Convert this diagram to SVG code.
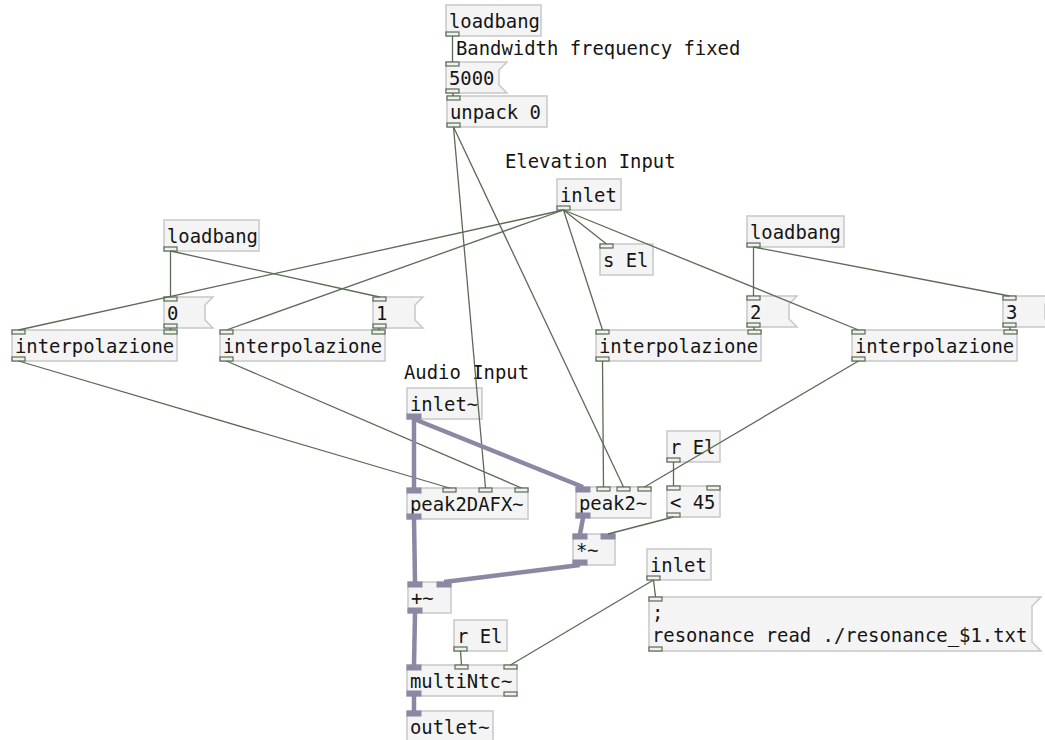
<svg xmlns="http://www.w3.org/2000/svg" width="1045" height="740" viewBox="0 0 1045 740">
<style>
.box{fill:#f4f4f4;stroke:#c8c8c8;stroke-width:1.5}
.t{font-family:"DejaVu Sans Mono",monospace;font-size:18.9px;fill:#151515}
.io{fill:#eef1ec;stroke:#5b6b56;stroke-width:1.2}
.sio{fill:#8b88a4;stroke:#8b88a4;stroke-width:1}
.c{stroke:#5b6b56;stroke-width:1.3;fill:none}
.s{stroke:#8b88a4;stroke-width:4.5;fill:none}
</style>
<rect width="1045" height="740" fill="#ffffff"/>

<!-- objects -->
<g id="loadbang-top"><rect class="box" x="446" y="5" width="95" height="31"/><text class="t" x="449" y="28">loadbang</text><rect class="io" x="446" y="32" width="13" height="4"/></g>
<g id="comment-bandwidth"><text class="t" x="456" y="55">Bandwidth frequency fixed</text></g>
<g id="msg-5000"><path class="box" d="M446 62H507L499 70V85L507 93H446Z"/><text class="t" x="449" y="85">5000</text><rect class="io" x="446" y="62" width="13" height="4"/><rect class="io" x="446" y="89" width="13" height="4"/></g>
<g id="unpack"><rect class="box" x="447" y="96" width="100" height="31"/><text class="t" x="450" y="119">unpack 0</text><rect class="io" x="447" y="96" width="13" height="4"/><rect class="io" x="447" y="123" width="13" height="4"/></g>

<g id="comment-elevation"><text class="t" x="505" y="168">Elevation Input</text></g>
<g id="inlet-elevation"><rect class="box" x="557" y="179" width="64" height="31"/><text class="t" x="560" y="202">inlet</text><rect class="io" x="557" y="206" width="13" height="4"/></g>
<g id="send-el"><rect class="box" x="600" y="244" width="53" height="31"/><text class="t" x="603" y="267">s El</text><rect class="io" x="600" y="244" width="13" height="4"/></g>

<g id="loadbang-left"><rect class="box" x="164" y="220" width="95" height="31"/><text class="t" x="167" y="243">loadbang</text><rect class="io" x="164" y="247" width="13" height="4"/></g>
<g id="loadbang-right"><rect class="box" x="747" y="216" width="97" height="31"/><text class="t" x="750" y="239">loadbang</text><rect class="io" x="747" y="243" width="13" height="4"/></g>

<g id="msg-0"><path class="box" d="M164 297H213L205 305V320L213 328H164Z"/><text class="t" x="167" y="320">0</text><rect class="io" x="164" y="297" width="13" height="4"/><rect class="io" x="164" y="324" width="13" height="4"/></g>
<g id="msg-1"><path class="box" d="M373 297H423L415 305V320L423 328H373Z"/><text class="t" x="376" y="320">1</text><rect class="io" x="373" y="297" width="13" height="4"/><rect class="io" x="373" y="324" width="13" height="4"/></g>
<g id="msg-2"><path class="box" d="M747 296H797L789 304V319L797 327H747Z"/><text class="t" x="750" y="319">2</text><rect class="io" x="747" y="296" width="13" height="4"/><rect class="io" x="747" y="323" width="13" height="4"/></g>
<g id="msg-3"><path class="box" d="M1003 296H1053L1045 304V319L1053 327H1003Z"/><text class="t" x="1006" y="319">3</text><rect class="io" x="1003" y="296" width="13" height="4"/><rect class="io" x="1003" y="323" width="13" height="4"/></g>

<g id="interp-a"><rect class="box" x="12" y="330" width="165" height="31"/><text class="t" x="15" y="353">interpolazione</text><rect class="io" x="12" y="330" width="13" height="4"/><rect class="io" x="164" y="330" width="13" height="4"/><rect class="io" x="12" y="357" width="13" height="4"/></g>
<g id="interp-b"><rect class="box" x="220" y="330" width="165" height="31"/><text class="t" x="223" y="353">interpolazione</text><rect class="io" x="220" y="330" width="13" height="4"/><rect class="io" x="372" y="330" width="13" height="4"/><rect class="io" x="220" y="357" width="13" height="4"/></g>
<g id="interp-c"><rect class="box" x="596" y="330" width="165" height="31"/><text class="t" x="599" y="353">interpolazione</text><rect class="io" x="596" y="330" width="13" height="4"/><rect class="io" x="748" y="330" width="13" height="4"/><rect class="io" x="596" y="357" width="13" height="4"/></g>
<g id="interp-d"><rect class="box" x="852" y="330" width="165" height="31"/><text class="t" x="855" y="353">interpolazione</text><rect class="io" x="852" y="330" width="13" height="4"/><rect class="io" x="1004" y="330" width="13" height="4"/><rect class="io" x="852" y="357" width="13" height="4"/></g>

<g id="comment-audio"><text class="t" x="404" y="379">Audio Input</text></g>
<g id="inlet-audio"><rect class="box" x="407" y="388" width="75" height="31"/><text class="t" x="410" y="411">inlet~</text><rect class="sio" x="407" y="414" width="14" height="5"/></g>

<g id="peak2dafx"><rect class="box" x="407" y="488" width="121" height="31"/><text class="t" x="410" y="511">peak2DAFX~</text><rect class="sio" x="407" y="488" width="14" height="5"/><rect class="io" x="443" y="488" width="13" height="4"/><rect class="io" x="479" y="488" width="13" height="4"/><rect class="io" x="515" y="488" width="13" height="4"/><rect class="sio" x="407" y="514" width="14" height="5"/></g>
<g id="peak2"><rect class="box" x="576" y="487" width="75" height="31"/><text class="t" x="579" y="510">peak2~</text><rect class="sio" x="576" y="487" width="14" height="5"/><rect class="io" x="597" y="487" width="13" height="4"/><rect class="io" x="617" y="487" width="13" height="4"/><rect class="io" x="638" y="487" width="13" height="4"/><rect class="sio" x="576" y="513" width="14" height="5"/></g>

<g id="receive-el-1"><rect class="box" x="667" y="431" width="53" height="31"/><text class="t" x="670" y="454">r El</text><rect class="io" x="667" y="458" width="13" height="4"/></g>
<g id="less-45"><rect class="box" x="667" y="486" width="53" height="31"/><text class="t" x="670" y="509">&lt; 45</text><rect class="io" x="667" y="486" width="13" height="4"/><rect class="io" x="707" y="486" width="13" height="4"/><rect class="io" x="667" y="513" width="13" height="4"/></g>

<g id="mul"><rect class="box" x="573" y="534" width="42" height="31"/><text class="t" x="576" y="557">*~</text><rect class="sio" x="573" y="534" width="14" height="5"/><rect class="sio" x="601" y="534" width="14" height="5"/><rect class="sio" x="573" y="560" width="14" height="5"/></g>

<g id="inlet-file"><rect class="box" x="647" y="549" width="64" height="31"/><text class="t" x="650" y="572">inlet</text><rect class="io" x="647" y="576" width="13" height="4"/></g>
<g id="msg-resonance"><path class="box" d="M649 597H1041L1032 606V642L1041 651H649Z"/><text class="t" x="652" y="619">;</text><text class="t" x="652" y="642">resonance read ./resonance_$1.txt</text><rect class="io" x="649" y="597" width="13" height="4"/><rect class="io" x="649" y="647" width="13" height="4"/></g>

<g id="add"><rect class="box" x="408" y="582" width="43" height="31"/><text class="t" x="411" y="605">+~</text><rect class="sio" x="408" y="582" width="14" height="5"/><rect class="sio" x="437" y="582" width="14" height="5"/><rect class="sio" x="408" y="608" width="14" height="5"/></g>
<g id="receive-el-2"><rect class="box" x="454" y="620" width="53" height="31"/><text class="t" x="457" y="643">r El</text><rect class="io" x="454" y="647" width="13" height="4"/></g>
<g id="multintc"><rect class="box" x="407" y="665" width="110" height="31"/><text class="t" x="410" y="688">multiNtc~</text><rect class="sio" x="407" y="665" width="14" height="5"/><rect class="io" x="455" y="665" width="13" height="4"/><rect class="io" x="504" y="665" width="13" height="4"/><rect class="sio" x="407" y="691" width="14" height="5"/><rect class="io" x="504" y="692" width="13" height="4"/></g>
<g id="outlet-audio"><rect class="box" x="407" y="711" width="86" height="31"/><text class="t" x="410" y="734">outlet~</text><rect class="sio" x="407" y="711" width="14" height="5"/></g>

<!-- patch cords -->
<g id="connectors">
<g class="c">
<line x1="452.5" y1="36" x2="452.5" y2="62"/>
<line x1="452.5" y1="93" x2="453.5" y2="96"/>
<line x1="453.5" y1="127" x2="485.5" y2="488"/>
<line x1="453.5" y1="127" x2="623.5" y2="487"/>
<line x1="563.5" y1="210" x2="18.5" y2="330"/>
<line x1="563.5" y1="210" x2="226.5" y2="330"/>
<line x1="563.5" y1="210" x2="606.5" y2="244"/>
<line x1="563.5" y1="210" x2="602.5" y2="330"/>
<line x1="563.5" y1="210" x2="858.5" y2="330"/>
<line x1="170.5" y1="251" x2="170.5" y2="297"/>
<line x1="170.5" y1="251" x2="379.5" y2="297"/>
<line x1="753.5" y1="247" x2="753.5" y2="296"/>
<line x1="753.5" y1="247" x2="1009.5" y2="296"/>
<line x1="170.5" y1="328" x2="170.5" y2="330"/>
<line x1="379.5" y1="328" x2="378.5" y2="330"/>
<line x1="753.5" y1="327" x2="754.5" y2="330"/>
<line x1="1009.5" y1="327" x2="1010.5" y2="330"/>
<line x1="18.5" y1="361" x2="449.5" y2="488"/>
<line x1="226.5" y1="361" x2="521.5" y2="488"/>
<line x1="602.5" y1="361" x2="603.5" y2="487"/>
<line x1="858.5" y1="361" x2="644.5" y2="487"/>
<line x1="673.5" y1="462" x2="673.5" y2="486"/>
<line x1="673.5" y1="517" x2="608" y2="534"/>
<line x1="460.5" y1="651" x2="461.5" y2="665"/>
<line x1="653.5" y1="580" x2="510.5" y2="665"/>
<line x1="653.5" y1="580" x2="655.5" y2="597"/>
</g>
<g class="s">
<line x1="414" y1="419" x2="414" y2="488"/>
<line x1="414" y1="419" x2="583" y2="487"/>
<line x1="414" y1="519" x2="415" y2="582"/>
<line x1="583" y1="518" x2="580" y2="534"/>
<line x1="580" y1="565" x2="444" y2="582"/>
<line x1="415" y1="613" x2="414" y2="665"/>
<line x1="414" y1="696" x2="414" y2="711"/>
</g>
</g>
</svg>
